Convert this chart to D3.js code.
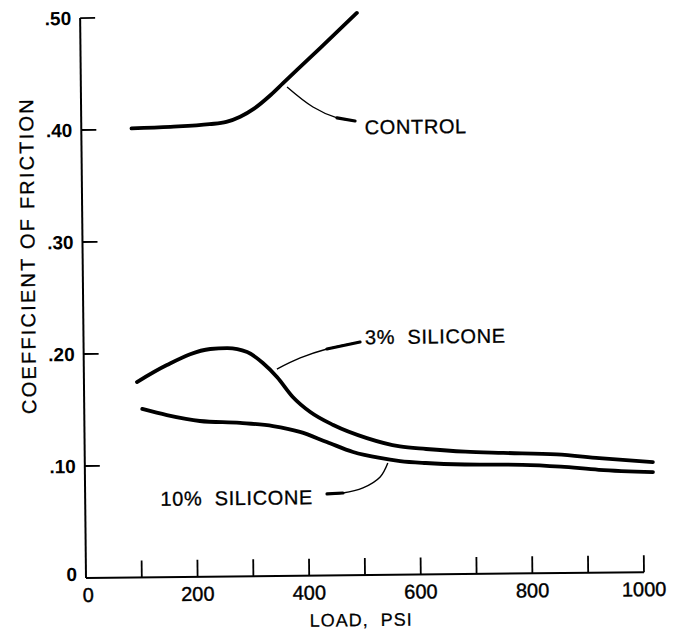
<!DOCTYPE html>
<html>
<head>
<meta charset="utf-8">
<script src="https://cdn.jsdelivr.net/npm/d3@7"></script>
<style>
  html, body { margin: 0; padding: 0; background: #fff; }
  svg { display: block; }
  text { font-family: "Liberation Sans", Arial, Helvetica, sans-serif; fill: #000; }
</style>
</head>
<body>
<svg id="chart" width="685" height="633"></svg>
<script>
// ---- data ----
const xTicks = [0, 200, 400, 600, 800, 1000];
const xMinorTicks = [100, 200, 300, 400, 500, 600, 700, 800, 900, 1000];
const yTicks = [0.1, 0.2, 0.3, 0.4, 0.5];
const yTickLabels = [".10", ".20", ".30", ".40", ".50"];

const controlLoad = [90, 160, 230, 260, 285, 310, 340, 362, 430, 496];
const controlCOF  = [0.401, 0.402, 0.404, 0.4059, 0.4104, 0.4175, 0.4295, 0.4397, 0.4712, 0.502];

const sil3Load = [95, 149, 227, 257, 293, 321, 346, 374, 405, 446, 506, 565, 612, 682, 750, 846, 922, 1018];
const sil3COF  = [0.1745, 0.1894, 0.2033, 0.2040, 0.2003, 0.1903, 0.1777, 0.1597, 0.1461, 0.1343, 0.1223, 0.1145, 0.1120, 0.1092, 0.1078, 0.1060, 0.1023, 0.0982];

const sil10Load = [104, 148, 207, 279, 338, 386, 434, 481, 529, 565, 611, 681, 784, 853, 921, 1018];
const sil10COF  = [0.1504, 0.1447, 0.1391, 0.1370, 0.1339, 0.1284, 0.1192, 0.1100, 0.1044, 0.1015, 0.0995, 0.0978, 0.0970, 0.0950, 0.0918, 0.0893];

// annotation leaders (in data units)
const controlLeader = [[369.5, 0.4365], [415.6, 0.4184], [458.5, 0.4084], [490.7, 0.4055]];
const sil3Leader    = [[346, 0.1848], [388, 0.1945], [436, 0.2022], [495.5, 0.2081]];
const sil10Leader   = [[543, 0.0998], [529, 0.0874], [498, 0.0778], [462, 0.0735], [433.5, 0.0728]];

const labels = [
  { text: "CONTROL",       x: 508,   y: 0.4001, anchor: "start" },
  { text: "3%  SILICONE",  x: 504.5, y: 0.2126, anchor: "start" },
  { text: "10%  SILICONE", x: 408,   y: 0.0702, anchor: "end" }
];

// ---- layout ----
const ox = 86, oy = 578;
const x = d3.scaleLinear().domain([0, 1000]).range([ox, ox + 558]);
const y = d3.scaleLinear().domain([0, 0.5]).range([oy, oy - 560]);

const svg = d3.select("#chart");
const g = svg.append("g").attr("transform", `rotate(-0.6, ${ox}, ${oy})`);

// axes lines
g.append("line").attr("x1", x(0)).attr("x2", x(0)).attr("y1", y(0)).attr("y2", y(0.5))
  .attr("stroke", "#000").attr("stroke-width", 2);
g.append("line").attr("x1", x(0)).attr("x2", x(1000)).attr("y1", y(0)).attr("y2", y(0))
  .attr("stroke", "#000").attr("stroke-width", 2);

// y ticks (inward, right)
g.selectAll(".yt").data(yTicks).enter().append("line")
  .attr("x1", x(0)).attr("x2", x(0) + 15)
  .attr("y1", d => y(d)).attr("y2", d => y(d))
  .attr("stroke", "#000").attr("stroke-width", 1.8);

g.selectAll(".ytl").data(yTicks).enter().append("text")
  .attr("x", x(0) - 9).attr("y", d => y(d)).attr("dy", "0.36em")
  .attr("text-anchor", "end").attr("font-size", 19).attr("font-weight", "bold")
  .text((d, i) => yTickLabels[i]);
g.append("text").attr("x", x(0) - 9).attr("y", y(0) - 4).attr("dy", "0.36em")
  .attr("text-anchor", "end").attr("font-size", 19).attr("font-weight", "bold").text("0");

// x ticks (inward, up)
g.selectAll(".xt").data(xMinorTicks).enter().append("line")
  .attr("x1", d => x(d)).attr("x2", d => x(d))
  .attr("y1", y(0)).attr("y2", y(0) - 17)
  .attr("stroke", "#000").attr("stroke-width", 1.8);

g.selectAll(".xtl").data(xTicks).enter().append("text")
  .attr("x", d => x(d) + (d === 0 ? 2 : 0)).attr("y", y(0) + 24)
  .attr("text-anchor", "middle").attr("font-size", 20)
  .attr("stroke", "#000").attr("stroke-width", 0.4)
  .text(d => d);

// axis titles
g.append("text").attr("x", x(400)).attr("y", oy + 51)
  .attr("text-anchor", "start").attr("font-size", 18).attr("letter-spacing", 1)
  .attr("stroke", "#000").attr("stroke-width", 0.25)
  .style("white-space", "pre")
  .text("LOAD,  PSI");
g.append("text").attr("transform", `translate(38, 255) rotate(-90)`)
  .attr("text-anchor", "middle").attr("font-size", 20).attr("letter-spacing", 2.2)
  .attr("stroke", "#000").attr("stroke-width", 0.25)
  .style("white-space", "pre")
  .text("COEFFICIENT OF FRICTION");

// curves
const curveLine = d3.line().x(d => x(d[0])).y(d => y(d[1])).curve(d3.curveMonotoneX);
const leaderLine = d3.line().x(d => x(d[0])).y(d => y(d[1])).curve(d3.curveCatmullRom.alpha(0.5));
const series = [
  d3.zip(controlLoad, controlCOF),
  d3.zip(sil3Load, sil3COF),
  d3.zip(sil10Load, sil10COF)
];
g.selectAll(".curve").data(series).enter().append("path")
  .attr("d", curveLine).attr("fill", "none").attr("stroke", "#000")
  .attr("stroke-width", 3.8).attr("stroke-linecap", "round").attr("stroke-linejoin", "round");

// leaders
[controlLeader, sil3Leader, sil10Leader].forEach(L => {
  g.append("path").attr("d", leaderLine(L)).attr("fill", "none").attr("stroke", "#000")
    .attr("stroke-width", 1.4);
  g.append("path").attr("d", leaderLine(L.slice(-2))).attr("fill", "none").attr("stroke", "#000")
    .attr("stroke-width", 3.2).attr("stroke-linecap", "round");
});

// labels
g.selectAll(".lbl").data(labels).enter().append("text")
  .attr("x", d => x(d.x)).attr("y", d => y(d.y)).attr("dy", "0.36em")
  .attr("text-anchor", d => d.anchor).attr("font-size", 20).attr("letter-spacing", 0.6)
  .attr("stroke", "#000").attr("stroke-width", 0.3)
  .style("white-space", "pre")
  .text(d => d.text);
</script>
</body>
</html>
